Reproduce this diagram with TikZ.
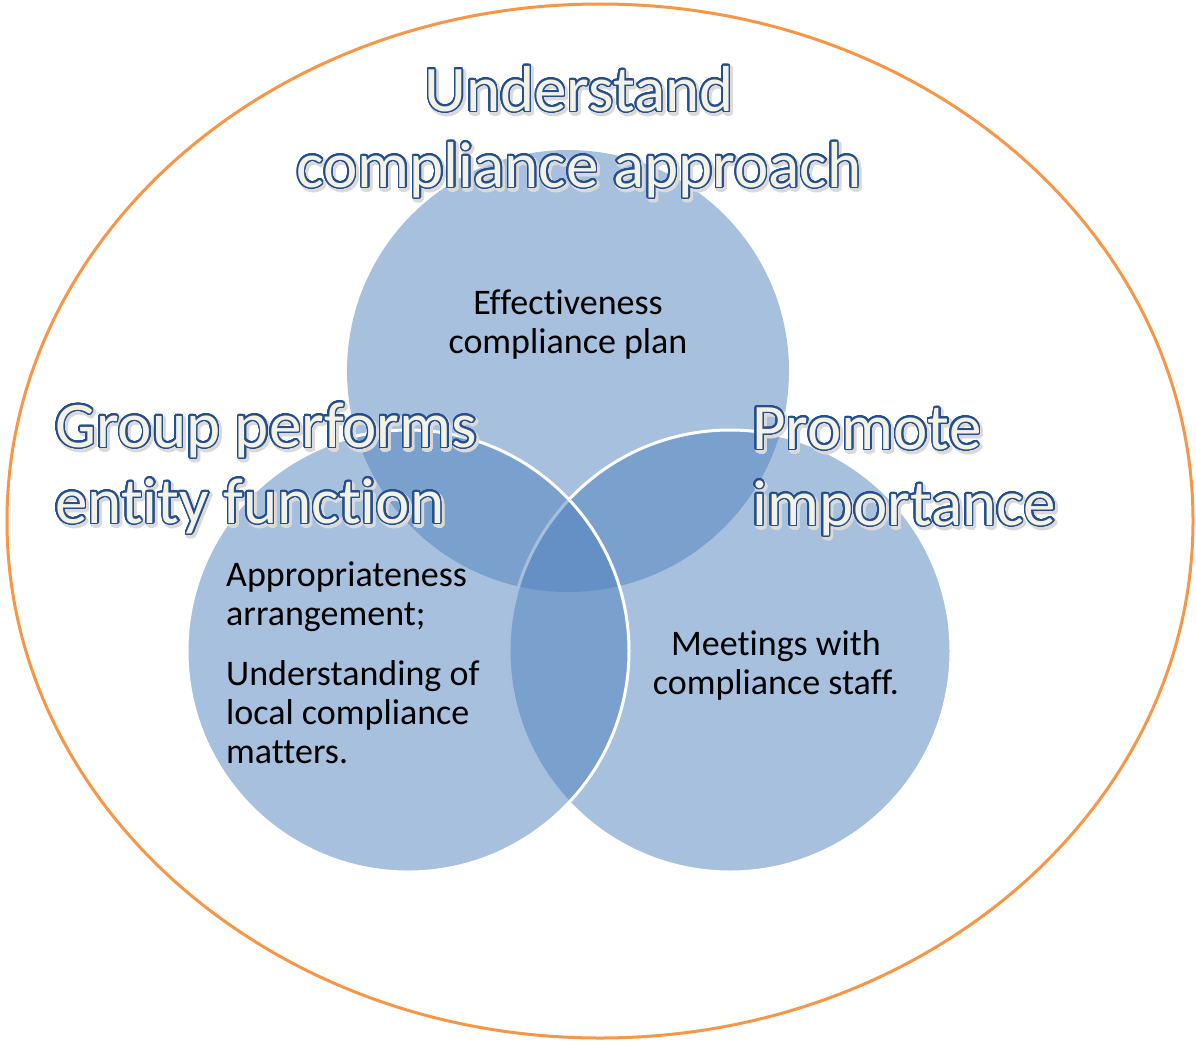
\documentclass[tikz,border=0pt]{standalone}
\usepackage{fontspec}
\setmainfont{Carlito}[Ligatures=NoCommon]
\usepackage{xcolor}
\usepackage[copies]{contour}
\contourlength{1.5pt}
\contournumber{32}
\usetikzlibrary{positioning, shapes.geometric}
\definecolor{vnblue}{RGB}{79, 129, 189}
\definecolor{vnorange}{RGB}{247, 150, 70}
\definecolor{vnline}{RGB}{36, 79, 140}
\definecolor{vncream}{RGB}{244, 242, 229}
\definecolor{vnshade}{RGB}{218, 218, 218}
% outlined title word with a soft shadow
\newcommand{\vnword}[1]{\rlap{\raisebox{-2.5pt}{\hspace{2pt}\contourlength{2.5pt}\contour{vnshade}{\color{vnshade}#1}}}\contour{vnline}{\color{vncream}#1}}
\tikzset{
    vncircle/.style={circle, minimum size=442pt, inner sep=0pt, fill=vnblue, fill opacity=0.5},
    vnedge/.style={vncircle, draw=white, line width=3pt},
    vntitle/.style={font=\fontsize{65}{76}\selectfont, inner sep=0pt},
    vntext/.style={font=\fontsize{36}{39}\selectfont, text=black, inner sep=0pt}
}

\begin{document}
\begin{tikzpicture}[x=1pt, y=-1pt]
    \useasboundingbox (0,0) rectangle (1196,1041);
    \node[ellipse, draw=vnorange, line width=3pt, minimum width=1186pt, minimum height=1034pt, inner sep=0pt] (frame) at (600,521) {};
    \node[vncircle] (top) at (568,371) {};
    \node[vnedge] (right) at (730,651) {};
    \node[vnedge] (left) at (408,651) {};
    \node[vntitle, align=center, anchor=base] (understand) at (579,187) {\vnword{Understand}\\\vnword{compliance approach}};
    \node[vntitle, align=left, anchor=base west] (group) at (55,523) {\vnword{Group performs}\\\vnword{entity function}};
    \node[vntitle, align=left, anchor=base west] (promote) at (752,525) {\vnword{Promote}\\\vnword{importance}};
    \node[vntext, align=center, anchor=base] (effect) at (568,353) {Effectiveness\\compliance plan};
    \node[vntext, align=left, anchor=base west] (approp) at (226,763) {Appropriateness\\arrangement;\\[21pt]Understanding of\\local compliance\\matters.};
    \node[vntext, align=center, anchor=base] (meet) at (776,694) {Meetings with\\compliance staff.};
\end{tikzpicture}
\end{document}
